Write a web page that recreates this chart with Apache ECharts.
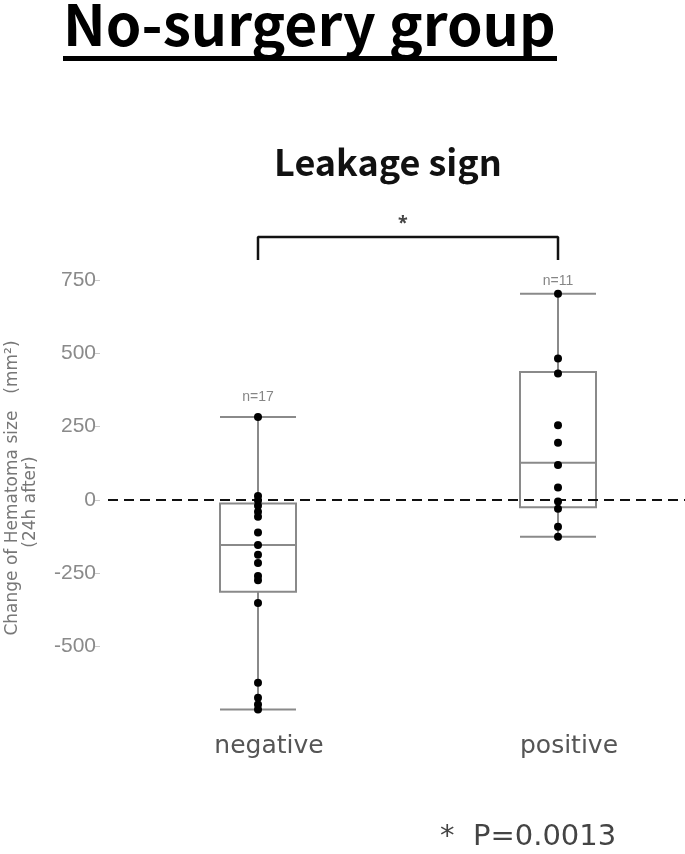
<!DOCTYPE html>
<html>
<head>
<meta charset="utf-8">
<script src="https://cdn.jsdelivr.net/npm/echarts@6/dist/echarts.min.js"></script>
<style>
  html, body { margin: 0; padding: 0; background: #fff; }
  #chart { width: 685px; height: 854px; }
</style>
</head>
<body>
<div id="chart"></div>
<script>
// categories and values
var groups = ['negative', 'positive'];
var nLabels = ['n=17', 'n=11'];
var nLabelY = [351, 745];
// [min, Q1, median, Q3, max]
var boxNegative = [-714, -313, -153, -12, 283];
var boxPositive = [-125, -25, 127, 436, 703];
var pointsNegative = [283, 14, -2, -20, -40, -57, -111, -153, -187, -215, -259, -274, -351, -623, -674, -697, -714];
var pointsPositive = [703, 482, 431, 255, 195, 119, 43, -5, -30, -91, -125];
var yTicks = [-500, -250, 0, 250, 500, 750];
var bracketTop = 897, bracketFoot = 818;

var myChart = echarts.init(document.getElementById('chart'));

var scatterData = [];
pointsNegative.forEach(function (v) { scatterData.push([groups[0], v]); });
pointsPositive.forEach(function (v) { scatterData.push([groups[1], v]); });

var option = {
  backgroundColor: '#fff',
  animation: false,
  grid: { left: 108, top: 280, width: 600, height: 440, outerBoundsMode: 'none', containLabel: false },
  xAxis: {
    type: 'category',
    data: groups,
    axisLine: { show: false },
    axisTick: { show: false },
    axisLabel: {
      color: '#555',
      fontSize: 25,
      fontFamily: 'DejaVu Sans',
      margin: 14,
      padding: [0, 0, 0, 22]
    }
  },
  yAxis: {
    type: 'value',
    min: -750,
    max: 750,
    interval: 250,
    offset: 8,
    axisLine: { show: false },
    splitLine: { show: false },
    axisTick: { show: true, length: 6, customValues: yTicks, lineStyle: { color: '#c8c8c8' } },
    axisLabel: { color: '#8a8a8a', fontSize: 21, margin: 4, customValues: yTicks }
  },
  series: [
    {
      type: 'boxplot',
      data: [boxNegative, boxPositive],
      boxWidth: [76, 76],
      itemStyle: { color: 'transparent', borderColor: '#8a8a8a', borderWidth: 2 },
      silent: true,
      markLine: {
        silent: true,
        symbol: 'none',
        label: { show: false },
        lineStyle: { type: [10, 6], color: '#111', width: 2 },
        data: [{ yAxis: 0 }]
      }
    },
    {
      type: 'scatter',
      data: scatterData,
      symbolSize: 8,
      itemStyle: { color: '#000', opacity: 1 },
      z: 5
    },
    {
      // bracket above the boxes
      type: 'line',
      data: [[groups[0], bracketFoot], [groups[0], bracketTop], [groups[1], bracketTop], [groups[1], bracketFoot]],
      clip: false,
      symbol: 'none',
      lineStyle: { color: '#111', width: 2.5 },
      silent: true
    },
    {
      type: 'scatter',
      data: [[groups[0], nLabelY[0]], [groups[1], nLabelY[1]]],
      symbolSize: 0,
      clip: false,
      silent: true,
      label: {
        show: true,
        position: 'inside',
        color: '#666',
        fontSize: 14,
        formatter: function (p) { return nLabels[p.dataIndex]; }
      }
    }
  ],
  graphic: [
    {
      type: 'text', left: 63, top: -4,
      style: { text: 'No-surgery group', font: 'bold 57px "Noto Sans CJK JP"', fill: '#000' }
    },
    { type: 'rect', shape: { x: 63, y: 56, width: 494, height: 5 }, style: { fill: '#000' } },
    {
      type: 'text', x: 388, y: 162,
      style: { text: 'Leakage sign', font: 'bold 36px "Noto Sans CJK JP"', fill: '#111', align: 'center', verticalAlign: 'middle' }
    },
    {
      type: 'text', x: 403, y: 224,
      style: { text: '*', font: 'bold 18px "Noto Sans"', fill: '#444', align: 'center', verticalAlign: 'middle' }
    },
    {
      type: 'text', x: 13, y: 488, rotation: Math.PI / 2,
      style: { text: 'Change of Hematoma size　(mm²)', font: '17px "DejaVu Sans"', fill: '#777', align: 'center', verticalAlign: 'middle' }
    },
    {
      type: 'text', x: 31, y: 502, rotation: Math.PI / 2,
      style: { text: '(24h after)', font: '17px "DejaVu Sans"', fill: '#777', align: 'center', verticalAlign: 'middle' }
    },
    {
      type: 'text', x: 440, y: 837,
      style: { text: '*  P=0.0013', font: '29px "DejaVu Sans"', fill: '#444', verticalAlign: 'middle' }
    }
  ]
};

myChart.setOption(option);
</script>
</body>
</html>
